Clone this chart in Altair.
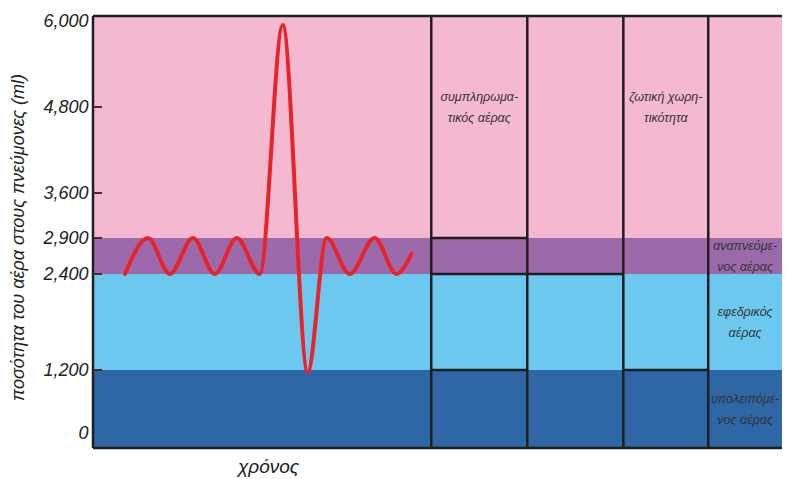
import altair as alt
import pandas as pd

# ---------------- data ----------------
# background bands (lung volume zones, ml)
band_lower = [0, 1200, 2400, 2900]
band_upper = [1200, 2400, 2900, 6000]
band_colors = ["#2f66a6", "#6cc8ef", "#9c6aab", "#f5b8d1"]
x_start = [0, 0, 0, 0]
x_end = [99, 99, 99, 99]

# y axis ticks
y_ticks = [0, 1200, 2400, 2900, 3600, 4800, 6000]
inner_ticks = [1200, 2400, 2900, 3600, 4800]

# spirogram trace (time units, ml)
spiro_time = [4.6, 7.9, 11.05, 14.35, 17.5, 20.66, 23.96, 27.26, 30.85, 33.57,
              36.87, 40.46, 43.6, 45.77]
spiro_volume = [2400, 2900, 2400, 2900, 2400, 2900, 2400, 5880, 1170, 2900,
                2400, 2900, 2400, 2680]

# column dividers (time units)
col_x = [48.6, 62.4, 76.2, 88.4]
# horizontal segments inside the columns
seg_x0 = [48.6, 48.6, 48.6, 62.4, 76.2]
seg_x1 = [62.4, 62.4, 62.4, 76.2, 88.4]
seg_y = [2900, 2400, 1200, 2400, 1200]

# frame lines
frame_x0 = [0, 0]
frame_x1 = [99, 99]
frame_y = [6000, 0]

# labels
label_text = ["συμπληρωμα-\nτικός αέρας", "ζωτική χωρη-\nτικότητα",
              "αναπνεόμε-\nνος αέρας", "εφεδρικός\nαέρας", "υπολειπόμε-\nνος αέρας"]
label_x = [55.5, 82.3, 93.7, 93.7, 93.7]
label_y = [4800, 4800, 2650, 1800, 600]

# ---------------- scales ----------------
x_scale = alt.Scale(domain=[0, 99], nice=False, zero=False)
y_scale = alt.Scale(domain=y_ticks, range=[432, 354, 258, 222, 177, 91, 0],
                    nice=False, zero=False)

FONT = "Liberation Sans"

bands_df = pd.DataFrame({"x0": x_start, "x1": x_end, "lo": band_lower,
                         "hi": band_upper, "color": band_colors})
bands = alt.Chart(bands_df).mark_rect().encode(
    x=alt.X("x0:Q", scale=x_scale,
            axis=alt.Axis(title="χρόνος", labels=False, ticks=False, domain=False,
                          grid=False, titleX=175, titleY=24,
                          titleBaseline="alphabetic",
                          titleFont=FONT, titleFontSize=19, titleFontStyle="italic",
                          titleFontWeight="normal", titleColor="#222")),
    x2="x1:Q",
    y=alt.Y("lo:Q", scale=y_scale,
            axis=alt.Axis(values=y_ticks, labelExpr="format(datum.value, ',d')",
                          domain=False, ticks=False,
                          grid=False, labelFont=FONT, labelFontSize=18,
                          labelFontStyle="italic", labelColor="#222", labelPadding=5,
                          labelOffset={"condition": [
                              {"test": "datum.value === 0", "value": -15},
                              {"test": "datum.value === 6000", "value": 5}],
                              "value": 0},
                          title="ποσότητα του αέρα στους πνεύμονες (ml)",
                          titleFont=FONT, titleFontSize=18, titleFontStyle="italic",
                          titleFontWeight="normal", titleColor="#222",
                          titleX=-75, titleY=221, titleBaseline="middle",
                          titleAngle=270)),
    y2="hi:Q",
    color=alt.Color("color:N", scale=None),
)

LINE = "#1f1f1f"

cols_df = pd.DataFrame({"x": col_x, "lo": [0] * len(col_x), "hi": [6000] * len(col_x)})
cols = alt.Chart(cols_df).mark_rule(color=LINE, strokeWidth=2.5).encode(
    x=alt.X("x:Q", scale=x_scale),
    y=alt.Y("lo:Q", scale=y_scale),
    y2="hi:Q",
)

segs_df = pd.DataFrame({"x0": seg_x0, "x1": seg_x1, "y": seg_y})
segs = alt.Chart(segs_df).mark_rule(color=LINE, strokeWidth=2.5).encode(
    x=alt.X("x0:Q", scale=x_scale),
    x2="x1:Q",
    y=alt.Y("y:Q", scale=y_scale),
)

frame_df = pd.DataFrame({"x0": frame_x0, "x1": frame_x1, "y": frame_y})
frame_h = alt.Chart(frame_df).mark_rule(color=LINE, strokeWidth=2.5).encode(
    x=alt.X("x0:Q", scale=x_scale),
    x2="x1:Q",
    y=alt.Y("y:Q", scale=y_scale),
)
left_df = pd.DataFrame({"x": [0], "lo": [0], "hi": [6000]})
frame_v = alt.Chart(left_df).mark_rule(color=LINE, strokeWidth=2.5).encode(
    x=alt.X("x:Q", scale=x_scale),
    y=alt.Y("lo:Q", scale=y_scale),
    y2="hi:Q",
)

ticks_df = pd.DataFrame({"v": inner_ticks})
ticks = alt.Chart(ticks_df).mark_rule(color="#4a2a2a", strokeWidth=2).encode(
    x=alt.value(0), x2=alt.value(9),
    y=alt.Y("v:Q", scale=y_scale),
)

spiro_df = pd.DataFrame({"t": spiro_time, "v": spiro_volume})
spiro = alt.Chart(spiro_df).mark_line(color="#e8232a", strokeWidth=4,
                                      interpolate="monotone", strokeCap="round").encode(
    x=alt.X("t:Q", scale=x_scale),
    y=alt.Y("v:Q", scale=y_scale),
)

labels_df = pd.DataFrame({"text": label_text, "x": label_x, "y": label_y})
labels = alt.Chart(labels_df).mark_text(
    font=FONT, fontSize=12.5, fontStyle="italic", color="#333", lineBreak="\n",
    lineHeight=21, align="center", baseline="middle", dy=-10).encode(
    x=alt.X("x:Q", scale=x_scale),
    y=alt.Y("y:Q", scale=y_scale),
    text="text:N",
)

chart = alt.layer(bands, cols, segs, frame_h, frame_v, ticks, spiro, labels).properties(
    width=689, height=432,
    autosize=alt.AutoSizeParams(type="none"),
    padding={"left": 85, "top": 8, "right": 0, "bottom": 31},
    background="white",
).configure_view(stroke=None)

chart.save("out.html", embed_options={"renderer": "svg", "actions": False})
